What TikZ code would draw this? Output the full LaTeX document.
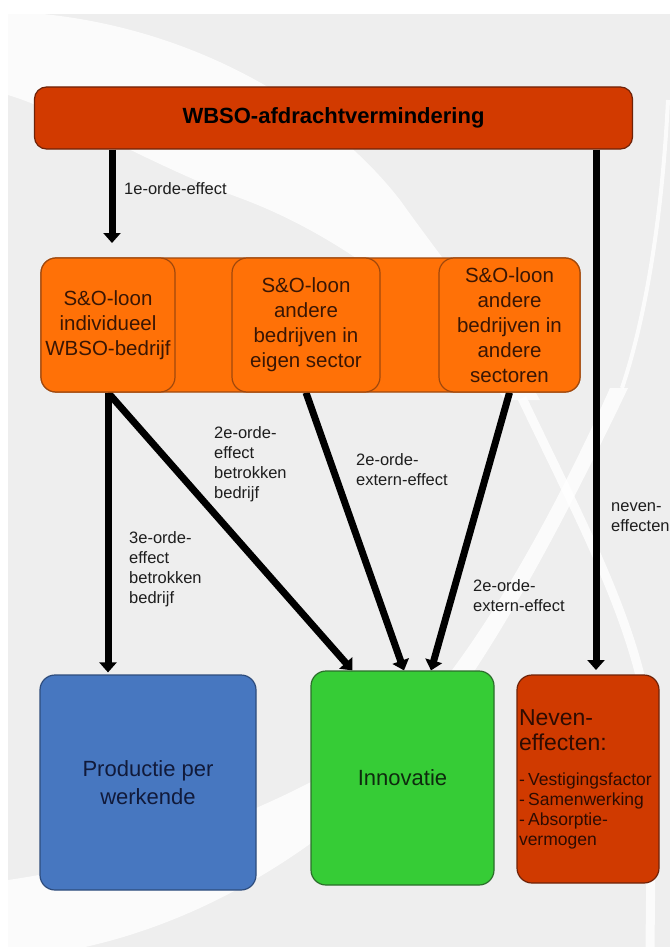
\documentclass[tikz,border=0pt]{standalone}
\usepackage{fontspec}
\setmainfont{Liberation Sans}
\usetikzlibrary{arrows.meta,calc}
\definecolor{bggray}{HTML}{EEEEEE}
\definecolor{titlefill}{HTML}{D23A00}
\definecolor{titleborder}{HTML}{6E2208}
\definecolor{orangefill}{HTML}{FF7107}
\definecolor{orangeborder}{HTML}{A0480C}
\definecolor{orangetext}{HTML}{3A1604}
\definecolor{bluefill}{HTML}{4777C0}
\definecolor{blueborder}{HTML}{2E4C7C}
\definecolor{bluetext}{HTML}{111A3A}
\definecolor{greenfill}{HTML}{36CC36}
\definecolor{greenborder}{HTML}{2B6E2B}
\definecolor{greentext}{HTML}{0E2A0E}
\definecolor{redfill}{HTML}{D03A00}
\definecolor{redtext}{HTML}{2E0C02}
\definecolor{labeltext}{HTML}{1E1E1E}
\pgfdeclarelayer{bg}
\pgfdeclarelayer{edges}
\pgfsetlayers{bg,edges,main}
\tikzset{
  box/.style={draw, line width=1.2pt, rounded corners=14pt, inner sep=3pt, align=center},
  titlebox/.style={box, fill=titlefill, draw=titleborder, rounded corners=12pt,
    minimum width=598pt, minimum height=62pt,
    font=\fontsize{22}{26}\selectfont\bfseries, text=black},
  bandbox/.style={box, fill=orangefill, draw=orangeborder, minimum height=134pt, rounded corners=15pt},
  sobox/.style={bandbox, font=\fontsize{20.5}{25}\selectfont, text=orangetext},
  bigbox/.style={box, rounded corners=15pt, font=\fontsize{22}{28}\selectfont},
  lbl/.style={anchor=north west, inner sep=0pt, align=left,
    font=\fontsize{16.5}{20}\selectfont, text=labeltext},
  arr/.style={line width=7pt, draw=black, -{Triangle[width=17pt,length=10pt]}},
  swoosh/.style={white, opacity=0.8}
}
\begin{document}
\begin{tikzpicture}[x=1pt,y=-1pt]
\useasboundingbox (0,0) rectangle (670,947);
\begin{pgfonlayer}{bg}
  \fill[white] (0,0) rectangle (670,947);
  \fill[bggray] (8,14) rectangle (670,947);
  \fill[swoosh] (8,14) -- (43,14) .. controls (200,30) and (330,110) .. (400,200)
     .. controls (450,270) and (500,330) .. (540,400) -- (505,400)
     .. controls (440,310) and (340,235) .. (240,198)
     .. controls (150,165) and (60,110) .. (8,95) -- cycle;
  \draw[swoosh, line width=9pt] (522,398) .. controls (590,540) and (650,650) .. (652,760) -- (650,947);
  \draw[swoosh, line width=4pt] (668,100) .. controls (662,220) and (645,320) .. (622,388);
  \fill[swoosh] (628,388) .. controls (560,530) and (500,640) .. (440,720)
     .. controls (380,800) and (250,910) .. (85,947) -- (8,947) -- (8,880)
     .. controls (150,860) and (330,790) .. (420,710)
     .. controls (490,630) and (560,500) .. (610,388) -- cycle;
\end{pgfonlayer}

% nodes
\node[titlebox] (title) at (333.5,118) {WBSO-afdrachtvermindering};
\node[bandbox, minimum width=539pt] (band) at (310.5,325) {};
\node[sobox, minimum width=134pt] (so1) at (108,325) {S\&O-loon\\individueel\\WBSO-bedrijf};
\node[sobox, minimum width=148pt] (so2) at (306,325) {S\&O-loon\\andere\\bedrijven in\\eigen sector};
\node[sobox, minimum width=141pt] (so3) at (509.5,325) {S\&O-loon\\andere\\bedrijven in\\andere\\sectoren};

\node[bigbox, fill=bluefill, draw=blueborder, minimum width=216pt, minimum height=215pt, text=bluetext]
  (prod) at (148,782.5) {Productie per\\werkende};
\node[bigbox, fill=greenfill, draw=greenborder, minimum width=183pt, minimum height=214pt, text=greentext]
  (innov) at (402.5,778) {Innovatie};
\node[box, rounded corners=15pt, fill=redfill, draw=titleborder, minimum width=142pt, minimum height=208pt,
  text width=138pt, align=left, inner xsep=2pt, text=redtext]
  (neven) at (588,779) {\fontsize{23}{25}\selectfont Neven-\\effecten:\par\vspace{15pt}%
  \fontsize{17.5}{20}\selectfont - Vestigingsfactor\\- Samenwerking\\- Absorptie-\\vermogen\par};

% labels
\node[lbl, anchor=west] (l1) at (124,189) {1e-orde-effect};
\node[lbl] (l2a) at (214,426) {2e-orde-\\effect\\betrokken\\bedrijf};
\node[lbl] (l2b) at (356,453) {2e-orde-\\extern-effect};
\node[lbl] (l3) at (129,531) {3e-orde-\\effect\\betrokken\\bedrijf};
\node[lbl] (l2c) at (473,579) {2e-orde-\\extern-effect};
\node[lbl] (ln) at (611,502) {neven-\\effecten};

% connectors
\coordinate (a1) at (112,243);
\coordinate (rx) at (596,670);
\begin{pgfonlayer}{edges}
  \draw[arr] (title.south -| a1) -- (a1);
  \draw[arr] (title.south -| rx) -- (rx);
  \draw[arr] (so1.south) -- ($(prod.north)+(-40,-2)$);
  \draw[arr] (so1.south) -- ($(innov.north west)+(42,0)$);
  \draw[arr] (so2.south) -- ($(innov.north)+(1.5,0)$);
  \draw[arr] (so3.south) -- ($(innov.north)+(28.5,0)$);
\end{pgfonlayer}
\end{tikzpicture}
\end{document}
